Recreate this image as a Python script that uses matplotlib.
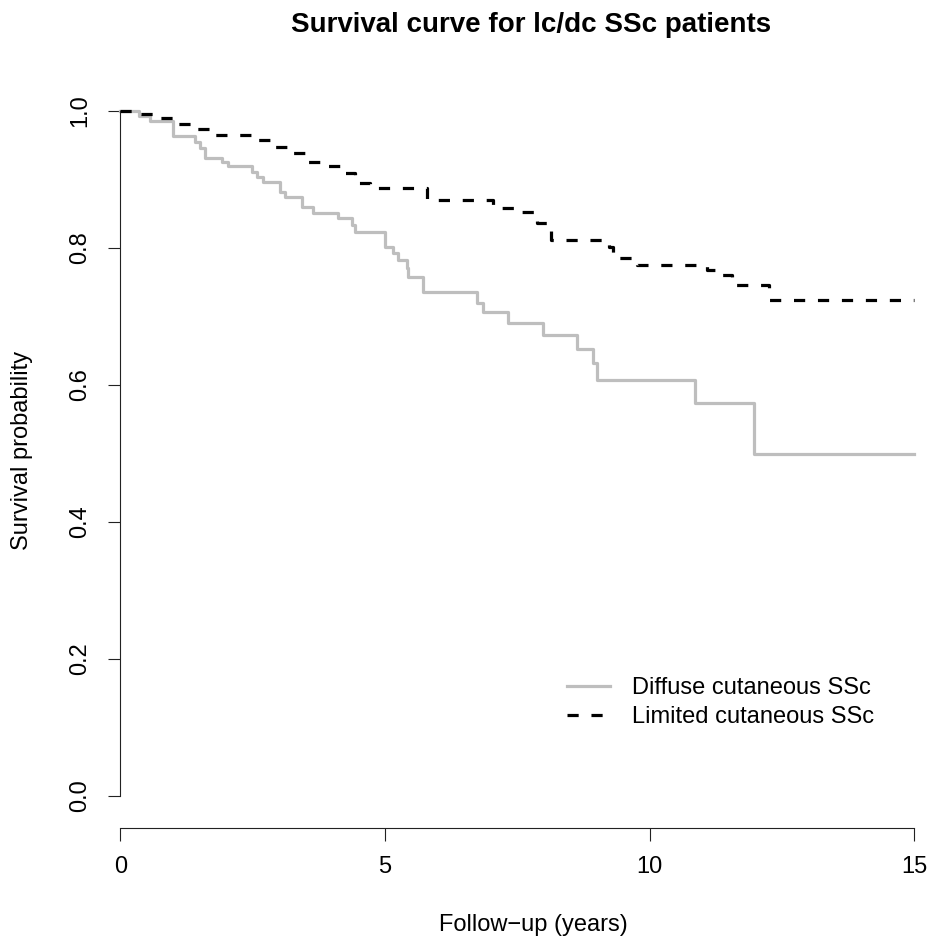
import matplotlib
matplotlib.use("Agg")
import matplotlib.pyplot as plt

plt.rcParams['font.family'] = ['Liberation Sans', 'DejaVu Sans']

# Kaplan-Meier estimates (time in years, survival after each event)
diffuse_t = [0, 0.35, 0.56, 0.99, 1.41, 1.50, 1.60, 1.92, 2.03, 2.48, 2.58, 2.69,
             3.01, 3.11, 3.42, 3.64, 4.11, 4.37, 4.43, 4.99, 5.15, 5.24, 5.41,
             5.43, 5.72, 6.73, 6.85, 7.33, 7.99, 8.62, 8.93, 9.01, 10.85, 11.96, 15]
diffuse_s = [1.0, 0.993, 0.985, 0.963, 0.955, 0.946, 0.931, 0.926, 0.919, 0.911,
             0.904, 0.897, 0.882, 0.875, 0.860, 0.851, 0.844, 0.834, 0.824, 0.802,
             0.793, 0.782, 0.771, 0.758, 0.736, 0.719, 0.706, 0.690, 0.673, 0.652,
             0.632, 0.607, 0.573, 0.500, 0.500]

limited_t = [0, 0.30, 0.75, 1.05, 1.35, 1.69, 2.49, 2.82, 3.15, 3.49, 3.81, 4.15,
             4.43, 4.71, 5.79, 7.03, 7.45, 7.87, 8.13, 9.23, 9.30, 9.76, 11.08,
             11.29, 11.55, 12.25, 15]
limited_s = [1.0, 0.995, 0.990, 0.981, 0.974, 0.965, 0.958, 0.948, 0.939, 0.926,
             0.919, 0.909, 0.895, 0.888, 0.870, 0.858, 0.853, 0.836, 0.812, 0.802,
             0.785, 0.775, 0.768, 0.761, 0.746, 0.724, 0.724]

x_ticks = [0, 5, 10, 15]
y_ticks = [0.0, 0.2, 0.4, 0.6, 0.8, 1.0]

fig = plt.figure(figsize=(9.31, 9.38), dpi=100)
ax = fig.add_axes([0.12943, 0.11706, 0.86417, 0.79381])
ax.set_xlim(0, 15.2)
ax.set_ylim(-0.047, 1.04)

ax.step(diffuse_t, diffuse_s, where='post', color='#bebebe', lw=2.3,
        label='Diffuse cutaneous SSc', clip_on=False)
ax.step(limited_t, limited_s, where='post', color='black', lw=2.3,
        linestyle=(0, (3.5, 4)), label='Limited cutaneous SSc', clip_on=False)

# base-R style axes: open, with lines only across the tick range
for side in ['top', 'right']:
    ax.spines[side].set_visible(False)
ax.spines['left'].set_bounds(0, 1)
ax.spines['bottom'].set_bounds(0, 15)
for side in ['left', 'bottom']:
    ax.spines[side].set_linewidth(0.8)
    ax.spines[side].set_color('#222222')

ax.set_xticks(x_ticks)
ax.set_xticklabels([str(v) for v in x_ticks])
ax.set_yticks(y_ticks)
ax.set_yticklabels([f'{v:.1f}' for v in y_ticks], rotation=90, va='center')
ax.tick_params(axis='both', direction='out', length=9, width=0.8,
               color='#222222', labelsize=17)
ax.tick_params(axis='x', pad=11)
ax.tick_params(axis='y', pad=12)

fig.text(0.5709, 0.9733, 'Survival curve for lc/dc SSc patients',
         ha='center', va='center', fontsize=20, fontweight='bold')
fig.text(0.5725, 0.0139, 'Follow\u2212up (years)', ha='center', va='center',
         fontsize=17)
fig.text(0.0236, 0.52, 'Survival probability', ha='center', va='center',
         rotation=90, fontsize=17)

ax.legend(loc='center left', bbox_to_anchor=(0.609, 0.2511),
          bbox_transform=fig.transFigure, frameon=False, fontsize=17,
          handlelength=1.82, handletextpad=0.93, labelspacing=0.29,
          borderpad=0, borderaxespad=0)

fig.savefig('out.png', dpi=100)
